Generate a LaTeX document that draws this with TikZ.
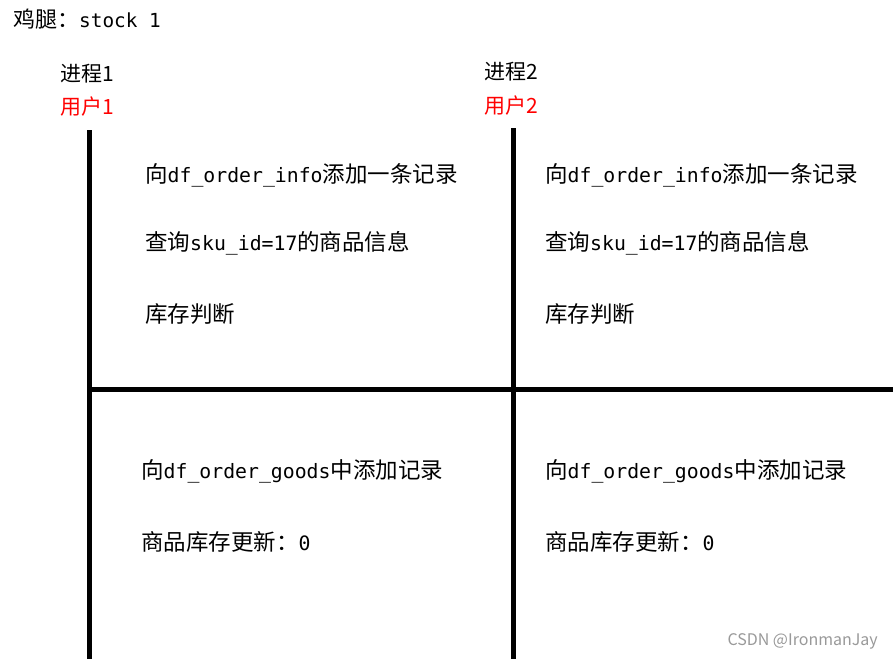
\documentclass[tikz,border=0pt]{standalone}
\usepackage{fontspec}
\setmainfont{Noto Sans CJK SC}
\newfontfamily\latmono[Scale=0.88]{DejaVu Sans Mono}
\newcommand{\ltn}[1]{{\latmono #1}}
\definecolor{userred}{RGB}{255,0,0}
\tikzset{
  step text/.style={anchor=west, inner sep=0pt, font=\fontsize{22.5}{26}\selectfont},
  head text/.style={anchor=west, inner sep=0pt, font=\fontsize{21}{25}\selectfont},
  time line/.style={line width=5pt}
}
\begin{document}
\begin{tikzpicture}[x=1pt, y=-1pt]
\useasboundingbox (0,0) rectangle (893,661);
\node[head text, font=\fontsize{22}{26}\selectfont] (stock) at (13,19) {鸡腿：\ltn{stock 1}};
\node[head text] (proc1) at (60,74) {进程1};
\node[head text, text=userred] (user1) at (60,107) {用户1};
\node[head text] (proc2) at (484,72) {进程2};
\node[head text, text=userred] (user2) at (484,106) {用户2};
\draw[time line] (89,130) -- (89,659);
\draw[time line] (513,128) -- (513,659);
\draw[time line] (89,389) -- (893,389);
\node[step text] (info1) at (145,175) {向\ltn{df\_order\_info}添加一条记录};
\node[step text] (query1) at (145,243) {查询\ltn{sku\_id=17}的商品信息};
\node[step text] (judge1) at (145,314) {库存判断};
\node[step text] (info2) at (545,175) {向\ltn{df\_order\_info}添加一条记录};
\node[step text] (query2) at (545,243) {查询\ltn{sku\_id=17}的商品信息};
\node[step text] (judge2) at (545,314) {库存判断};
\node[step text] (goods1) at (141,471) {向\ltn{df\_order\_goods}中添加记录};
\node[step text] (update1) at (141,542) {商品库存更新：\ltn{0}};
\node[step text] (goods2) at (545,471) {向\ltn{df\_order\_goods}中添加记录};
\node[step text] (update2) at (545,542) {商品库存更新：\ltn{0}};
\node[anchor=east, inner sep=0pt, text=gray!80, font=\fontsize{16}{19}\selectfont] (mark) at (878,641) {CSDN @IronmanJay};
\end{tikzpicture}
\end{document}
